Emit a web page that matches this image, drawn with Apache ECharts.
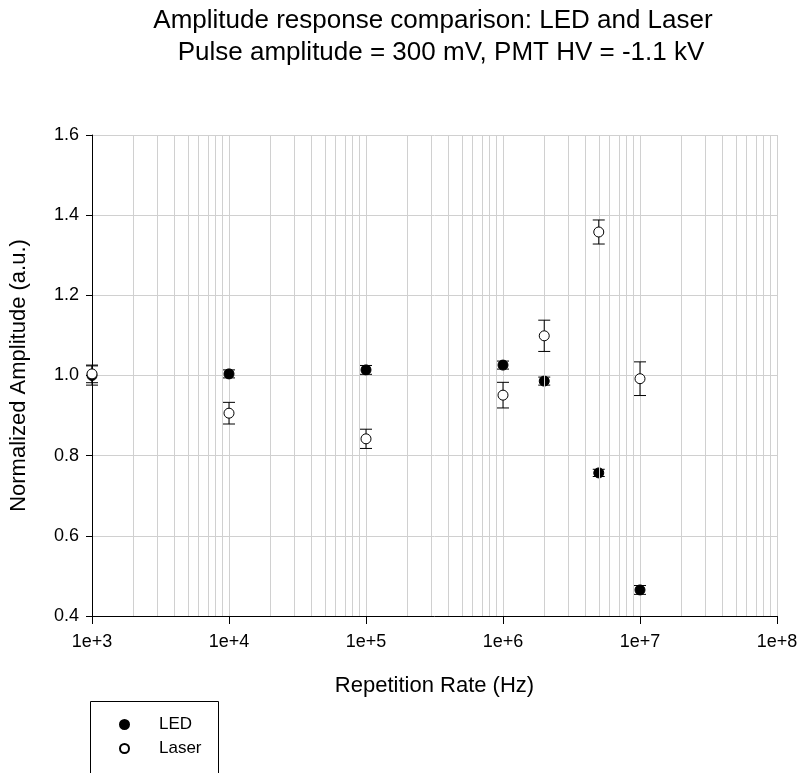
<!DOCTYPE html>
<html>
<head>
<meta charset="utf-8">
<script src="https://cdn.jsdelivr.net/npm/echarts@6/dist/echarts.min.js"></script>
<style>
  html, body { margin: 0; padding: 0; background: #fff; }
  #chart { width: 803px; height: 773px; }
</style>
</head>
<body>
<div id="chart"></div>
<script>
// repetition rates (Hz)
const ledRates = [1e3, 1e4, 1e5, 1e6, 2e6, 5e6, 1e7]
const ledAmp = [1.0, 1.004, 1.014, 1.026, 0.986, 0.757, 0.465]
const ledErr = [0.024, 0.01, 0.011, 0.01, 0.01, 0.009, 0.011]

const laserRates = [1e3, 1e4, 1e5, 1e6, 2e6, 5e6, 1e7]
const laserAmp = [1.004, 0.906, 0.842, 0.951, 1.099, 1.358, 0.992]
const laserErr = [0.022, 0.027, 0.024, 0.032, 0.039, 0.030, 0.042]

// minor vertical grid lines (2..9 within each decade)
const minorGrid = [
  2e3, 3e3, 4e3, 5e3, 6e3, 7e3, 8e3, 9e3,
  2e4, 3e4, 4e4, 5e4, 6e4, 7e4, 8e4, 9e4,
  2e5, 3e5, 4e5, 5e5, 6e5, 7e5, 8e5, 9e5,
  2e6, 3e6, 4e6, 5e6, 6e6, 7e6, 8e6, 9e6,
  2e7, 3e7, 4e7, 5e7, 6e7, 7e7, 8e7, 9e7
]

const font = 'Arial, "Liberation Sans", sans-serif'

function errData(xs, ys, es) {
  return xs.map((x, i) => [x, ys[i] - es[i], ys[i] + es[i]])
}

function renderErr(params, api) {
  const top = api.coord([api.value(0), api.value(2)])
  const bot = api.coord([api.value(0), api.value(1)])
  const hw = 6
  const style = { stroke: '#000', lineWidth: 1 }
  return {
    type: 'group',
    children: [
      { type: 'line', shape: { x1: top[0], y1: top[1], x2: bot[0], y2: bot[1] }, style },
      { type: 'line', shape: { x1: top[0] - hw, y1: top[1], x2: top[0] + hw, y2: top[1] }, style },
      { type: 'line', shape: { x1: bot[0] - hw, y1: bot[1], x2: bot[0] + hw, y2: bot[1] }, style }
    ]
  }
}

const chart = echarts.init(document.getElementById('chart'))

chart.setOption({
  animation: false,
  backgroundColor: '#fff',
  grid: { left: 91, right: 26, top: 135, bottom: 157 },
  graphic: [
    {
      type: 'text', x: 433, y: 21,
      style: { text: 'Amplitude response comparison: LED and Laser', font: '26px ' + font, fill: '#000', align: 'center', verticalAlign: 'middle' }
    },
    {
      type: 'text', x: 441, y: 53,
      style: { text: 'Pulse amplitude = 300 mV, PMT HV = -1.1 kV', font: '26px ' + font, fill: '#000', align: 'center', verticalAlign: 'middle' }
    },
    {
      type: 'rect', shape: { x: 90.5, y: 701.5, width: 128, height: 100 },
      style: { fill: 'none', stroke: '#000', lineWidth: 1 }
    }
  ],
  legend: {
    data: ['LED', 'Laser'],
    orient: 'vertical',
    left: 114,
    top: 711,
    itemWidth: 9,
    itemHeight: 9,
    itemGap: 7,
    textStyle: { fontFamily: font, fontSize: 17, color: '#000', padding: [0, 0, 0, 25] }
  },
  xAxis: {
    type: 'log',
    logBase: 10,
    min: 1e3,
    max: 1e8,
    splitNumber: 5,
    name: 'Repetition Rate (Hz)',
    nameLocation: 'middle',
    nameGap: 59,
    nameTextStyle: { fontFamily: font, fontSize: 22, color: '#000' },
    axisLine: { show: true, lineStyle: { color: '#000', width: 1 } },
    axisTick: { show: true, length: 8, lineStyle: { color: '#000' } },
    axisLabel: {
      margin: 17, fontFamily: font, fontSize: 18, color: '#000',
      formatter: v => '1e+' + Math.round(Math.log10(v))
    },
    splitLine: { show: true, lineStyle: { color: '#d0d0d0', width: 1 } },
    minorTick: { show: false },
    minorSplitLine: { show: false }
  },
  yAxis: {
    type: 'value',
    min: 0.4,
    max: 1.6,
    interval: 0.2,
    name: 'Normalized Amplitude (a.u.)',
    nameLocation: 'middle',
    nameGap: 62,
    nameTextStyle: { fontFamily: font, fontSize: 22, color: '#000' },
    axisLine: { show: true, lineStyle: { color: '#000', width: 1 } },
    axisTick: { show: true, length: 6, lineStyle: { color: '#000' } },
    axisLabel: {
      margin: 13, fontFamily: font, fontSize: 18, color: '#000',
      formatter: v => v.toFixed(1)
    },
    splitLine: { show: true, lineStyle: { color: '#d0d0d0', width: 1 } }
  },
  series: [
    {
      name: 'grid',
      type: 'scatter',
      data: [],
      z: 1,
      silent: true,
      markLine: {
        silent: true,
        symbol: 'none',
        label: { show: false },
        lineStyle: { color: '#d0d0d0', type: 'solid', width: 1 },
        data: minorGrid.map(v => ({ xAxis: v }))
      }
    },
    {
      name: 'LED err',
      type: 'custom',
      renderItem: renderErr,
      data: errData(ledRates, ledAmp, ledErr),
      z: 3
    },
    {
      name: 'LED',
      type: 'scatter',
      symbol: 'circle',
      symbolSize: 10,
      itemStyle: { color: '#000', borderColor: '#000', borderWidth: 1, opacity: 1 },
      data: ledRates.map((x, i) => [x, ledAmp[i]]),
      z: 4
    },
    {
      name: 'Laser err',
      type: 'custom',
      renderItem: renderErr,
      data: errData(laserRates, laserAmp, laserErr),
      z: 5
    },
    {
      name: 'Laser',
      type: 'scatter',
      symbol: 'circle',
      symbolSize: 10,
      itemStyle: { color: '#fff', borderColor: '#000', borderWidth: 1, opacity: 1 },
      data: laserRates.map((x, i) => [x, laserAmp[i]]),
      z: 6
    }
  ]
})
</script>
</body>
</html>
